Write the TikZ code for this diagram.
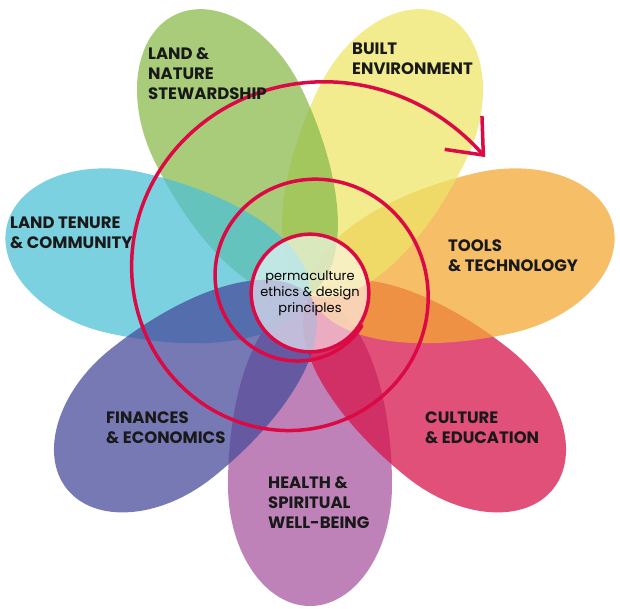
\documentclass[tikz,border=0pt]{standalone}
\usepackage{fontspec}
\setmainfont{Poppins}
\usetikzlibrary{arrows.meta}
\definecolor{healthc}{RGB}{168,88,161}
\definecolor{culturec}{RGB}{215,21,75}
\definecolor{toolsc}{RGB}{243,168,51}
\definecolor{builtc}{RGB}{237,229,104}
\definecolor{naturec}{RGB}{139,187,77}
\definecolor{tenurec}{RGB}{79,193,213}
\definecolor{financec}{RGB}{72,76,155}
\definecolor{ringred}{RGB}{220,10,68}
\tikzset{
  pics/petal/.style={code={
    \fill[#1,fill opacity=.75] (0,0) .. controls (10,55) and (100,82) .. (190,82)
      .. controls (257,82) and (311,45) .. (311,0)
      .. controls (311,-45) and (257,-82) .. (190,-82)
      .. controls (100,-82) and (10,-55) .. (0,0) -- cycle;}},
  label/.style={anchor=north west,inner sep=0pt,align=left,
    font=\fontsize{16.5}{20}\selectfont\bfseries,text=black!90},
  spiral/.style={draw=ringred,line width=3.5pt,line cap=round}
}
\begin{document}
\begin{tikzpicture}[x=1pt,y=1pt]
\useasboundingbox (-310,-313) rectangle (310,295);
% petals, drawn counter-clockwise from the bottom one
\foreach \ang/\col in {-90/healthc,-38.57/culturec,12.86/toolsc,64.29/builtc,
  115.71/naturec,167.14/tenurec,218.57/financec}
  \pic[rotate=\ang] {petal=\col};
% spiral, widening clockwise out of the centre circle
\draw[spiral,-{Straight Barb[length=30pt,width=50pt,line width=3.5pt]}]
  plot[domain=-0.15:1.654,samples=160,variable=\t,smooth]
  ({-5.75+(76.75+41*\t+28*\t*\t)*cos(-90-360*\t)},
   {11+(76.75+41*\t+28*\t*\t)*sin(-90-360*\t)});
\node[circle,draw=ringred,line width=3.5pt,fill=white,fill opacity=.6,
  text opacity=1,minimum size=116pt,align=center,
  font=\fontsize{13}{16}\selectfont] (ethics) at (0,2)
  {permaculture\\ethics \& design\\principles};
\node[label] (nature) at (-162,247.5) {LAND \&\\NATURE\\STEWARDSHIP};
\node[label] (built) at (42,252.5) {BUILT\\ENVIRONMENT};
\node[label] (tenure) at (-300,78.5) {LAND TENURE\\\& COMMUNITY};
\node[label] (tools) at (138,55.5) {TOOLS\\\& TECHNOLOGY};
\node[label] (finances) at (-204,-116.5) {FINANCES\\\& ECONOMICS};
\node[label] (culture) at (115,-116.5) {CULTURE\\\& EDUCATION};
\node[label] (health) at (-42,-181.5) {HEALTH \&\\SPIRITUAL\\WELL-BEING};
\end{tikzpicture}
\end{document}
